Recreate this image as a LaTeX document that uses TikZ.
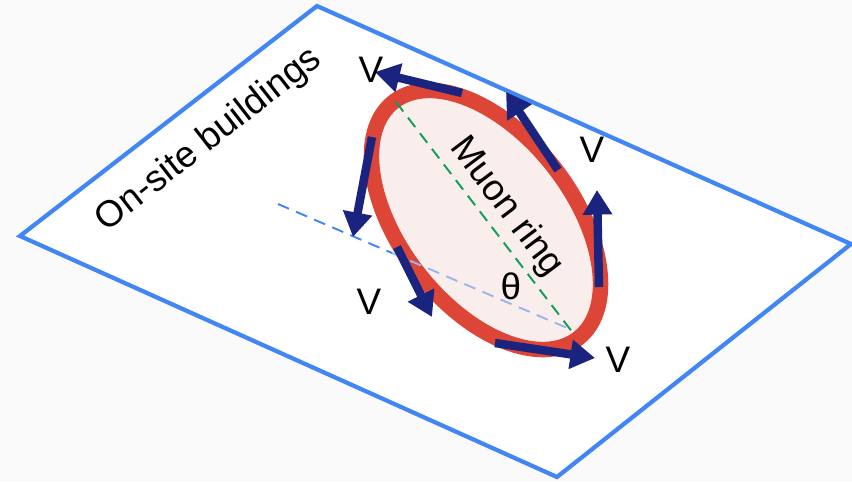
\documentclass[tikz,border=0pt]{standalone}
\usepackage{fontspec}
\setmainfont{Liberation Sans}
\usetikzlibrary{arrows.meta}
\definecolor{fondo}{HTML}{FAFAFA}
\definecolor{azul}{HTML}{4285F4}
\definecolor{azulclaro}{HTML}{9DB4EC}
\definecolor{rojo}{HTML}{DD4537}
\definecolor{rosa}{HTML}{FAEEEC}
\definecolor{verde}{HTML}{0F9D58}
\definecolor{navy}{HTML}{1A237E}

\begin{document}
\begin{tikzpicture}[>={Triangle[length=7pt,width=8pt]},line join=miter,
    lab/.style={font=\fontsize{10.5}{13}\selectfont,text=black,inner sep=0pt},
    veloc/.style={navy,line width=2.4pt,->},
    ringaxis/.style={line width=0.55pt,dash pattern=on 3.4pt off 2.2pt}]
        \fill[fondo] (0,0) rectangle (8.52,4.81);
        \useasboundingbox (0,0) rectangle (8.52,4.81);
        \coordinate (TL) at (3.17,4.75);
        \coordinate (TR) at (8.51,2.37);
        \coordinate (BR) at (5.57,0.04);
        \coordinate (BL) at (0.20,2.45);
        \coordinate (C)  at (4.86,2.61);
        \coordinate (D0) at (2.78,2.77);
        \coordinate (D1) at (3.92,2.28);
        \coordinate (D2) at (5.72,1.51);
        \coordinate (G0) at (3.96,3.79);
        \coordinate (G1) at (5.73,1.48);
        \draw[azul,line width=1.2pt,fill=white] (TL)--(TR)--(BR)--(BL)--cycle;
        \draw[azul,ringaxis] (D0) -- (D1);
        \draw[rojo,line width=4.4pt,fill=rosa,rotate around={-52:(C)}] (C) ellipse (1.50 and 0.86);
        \draw[azulclaro,ringaxis] (D1) -- (D2);
        \draw[verde,ringaxis] (G0) -- (G1);
        % arrows round the ring
        \foreach \n/\a/\b in {1/{4.62,3.88}/{3.75,4.09}, 2/{5.58,3.11}/{5.06,3.89},
              3/{5.99,1.94}/{5.97,2.91}, 4/{3.72,3.44}/{3.53,2.44},
              5/{3.97,2.34}/{4.32,1.64}, 6/{4.95,1.38}/{5.95,1.23}}{
          \coordinate (S\n) at (\a);
          \coordinate (E\n) at (\b);
          \draw[veloc] (S\n) -- (E\n);
        }
        \foreach \n/\p in {1/{3.71,4.11}, 2/{5.92,3.31}, 3/{3.69,1.79}, 4/{6.18,1.21}}{
          \node[lab] (v\n) at (\p) {V};
        }
        \node[lab,rotate=-53] (ring) at (5.06,2.74) {Muon ring};
        \node[lab,rotate=38] (site) at (2.09,3.41) {On-site buildings};
        \node[lab] (theta) at (5.11,1.95) {θ};
      \end{tikzpicture}
\end{document}
